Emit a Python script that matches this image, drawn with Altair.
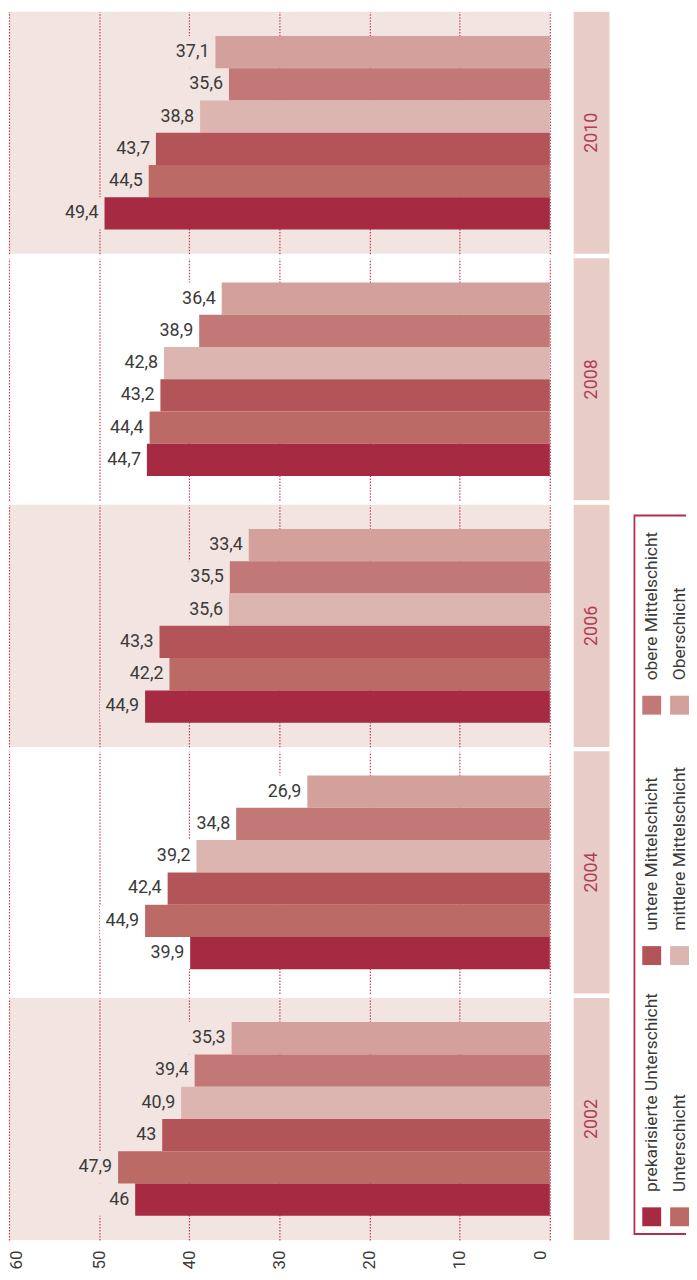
import altair as alt
import pandas as pd

FONT = "Roboto, sans-serif"

years = ["2010", "2008", "2006", "2004", "2002"]
classes = ["Oberschicht", "obere Mittelschicht", "mittlere Mittelschicht",
           "untere Mittelschicht", "Unterschicht", "prekarisierte Unterschicht"]
v2010 = [37.1, 35.6, 38.8, 43.7, 44.5, 49.4]
v2008 = [36.4, 38.9, 42.8, 43.2, 44.4, 44.7]
v2006 = [33.4, 35.5, 35.6, 43.3, 42.2, 44.9]
v2004 = [26.9, 34.8, 39.2, 42.4, 44.9, 39.9]
v2002 = [35.3, 39.4, 40.9, 43, 47.9, 46]
values = {"2010": v2010, "2008": v2008, "2006": v2006, "2004": v2004, "2002": v2002}
legend_order = ["prekarisierte Unterschicht", "Unterschicht", "untere Mittelschicht",
                "mittlere Mittelschicht", "obere Mittelschicht", "Oberschicht"]
class_colors = ["#d4a09b", "#c27876", "#dcb5b0", "#b25458", "#bc6a66", "#a62a42"]
x_ticks = [0, 10, 20, 30, 40, 50, 60]

PANEL_FILLS = ["#f2e4e0", "#ffffff"]
STRIP_FILL = "#e8cdc6"
CRIMSON = "#b0304c"
TEXT = "#3a3a3a"
PH = 243.5
PW = 544
GAP = 4
total_h = 5 * PH + 4 * GAP
k = total_h / 1244.0

color_scale = alt.Scale(domain=classes, range=class_colors)


def panel(year, fill, last):
    df = pd.DataFrame({"cls": classes, "value": values[year]})
    base = alt.Chart(df).transform_calculate(
        label="replace(toString(datum.value), '.', ',')",
        lend="datum.value + 5",
    )
    xscale = alt.Scale(domain=[0, 60], reverse=True, nice=False)
    if last:
        axis = alt.Axis(values=x_ticks, labelAngle=270, labelAlign="right",
                        labelBaseline={"expr": "datum.value == 60 ? 'top' : (datum.value == 0 ? 'bottom' : 'middle')"},
                        labelFlush=False, labelPadding=10, labelFontSize=17,
                        labelColor=TEXT, labelFont=FONT, ticks=False, domain=False,
                        grid=True, title=None)
    else:
        axis = alt.Axis(values=x_ticks, labels=False, ticks=False, domain=False,
                        grid=True, title=None)
    y = alt.Y("cls:N", sort=classes,
              scale=alt.Scale(paddingInner=0, paddingOuter=0.75), axis=None)
    bg = base.mark_bar(color=fill).encode(
        x=alt.X("value:Q", scale=xscale, axis=axis), x2="lend:Q", y=y)
    bars = base.mark_bar().encode(
        x="value:Q", y=y,
        color=alt.Color("cls:N", scale=color_scale, legend=None))
    text = base.mark_text(align="right", baseline="middle", dx=-6, fontSize=18,
                          font=FONT, color=TEXT).encode(
        x="value:Q", y=y, text="label:N")
    return alt.layer(bg, bars, text).properties(
        width=PW, height=PH, view=alt.ViewBackground(fill=fill, stroke=None))


def strip(year):
    return alt.Chart(pd.DataFrame({"year": [year]})).mark_text(
        angle=270, fontSize=18, font=FONT, color="#b03c55").encode(
        text="year:N").properties(
        width=36, height=PH, view=alt.ViewBackground(fill=STRIP_FILL, stroke=None))


rows = []
for i, yr in enumerate(years):
    rows.append(alt.hconcat(panel(yr, PANEL_FILLS[i % 2], i == len(years) - 1),
                            strip(yr), spacing=24))
left = alt.vconcat(*rows, spacing=GAP)

leg_df = pd.DataFrame({"cls": legend_order,
                       "grp": [i // 2 for i in range(len(legend_order))],
                       "col": [i % 2 for i in range(len(legend_order))]})
box = alt.Chart(pd.DataFrame({"a": [0]})).mark_rect(
    fill="white", stroke=CRIMSON, strokeWidth=2, clip=True).encode(
    x=alt.value(1), x2=alt.value(80), y=alt.value(511 * k), y2=alt.value(1240 * k))
xs = alt.X("col:Q", scale=alt.Scale(domain=[0, 1], range=[18.5, 46.5]), axis=None)
ys = alt.Y("grp:Q", scale=alt.Scale(domain=[0, 1, 2],
                                     range=[1222.5 * k, 957.5 * k, 703.5 * k]),
           axis=None)
sq = alt.Chart(leg_df).mark_square(size=361, opacity=1).encode(
    x=xs, y=ys, color=alt.Color("cls:N", scale=color_scale, legend=None))
tx = alt.Chart(leg_df).mark_text(angle=270, align="left", baseline="middle", dx=25,
                                 fontSize=17.5, font=FONT, color=TEXT).encode(
    x=xs, y=ys, text="cls:N")
legend = alt.layer(box, sq, tx).properties(
    width=53, height=total_h, view=alt.ViewBackground(stroke=None))

chart = alt.hconcat(left, legend, spacing=24).properties(
    padding=0, background="white"
).configure(font=FONT).configure_view(stroke=None).configure_axis(
    gridColor="#c22a48", gridDash=[1.5, 1.5], gridWidth=1.2, gridOpacity=0.9)

chart.save("out.html", embed_options={"renderer": "svg", "actions": False})
